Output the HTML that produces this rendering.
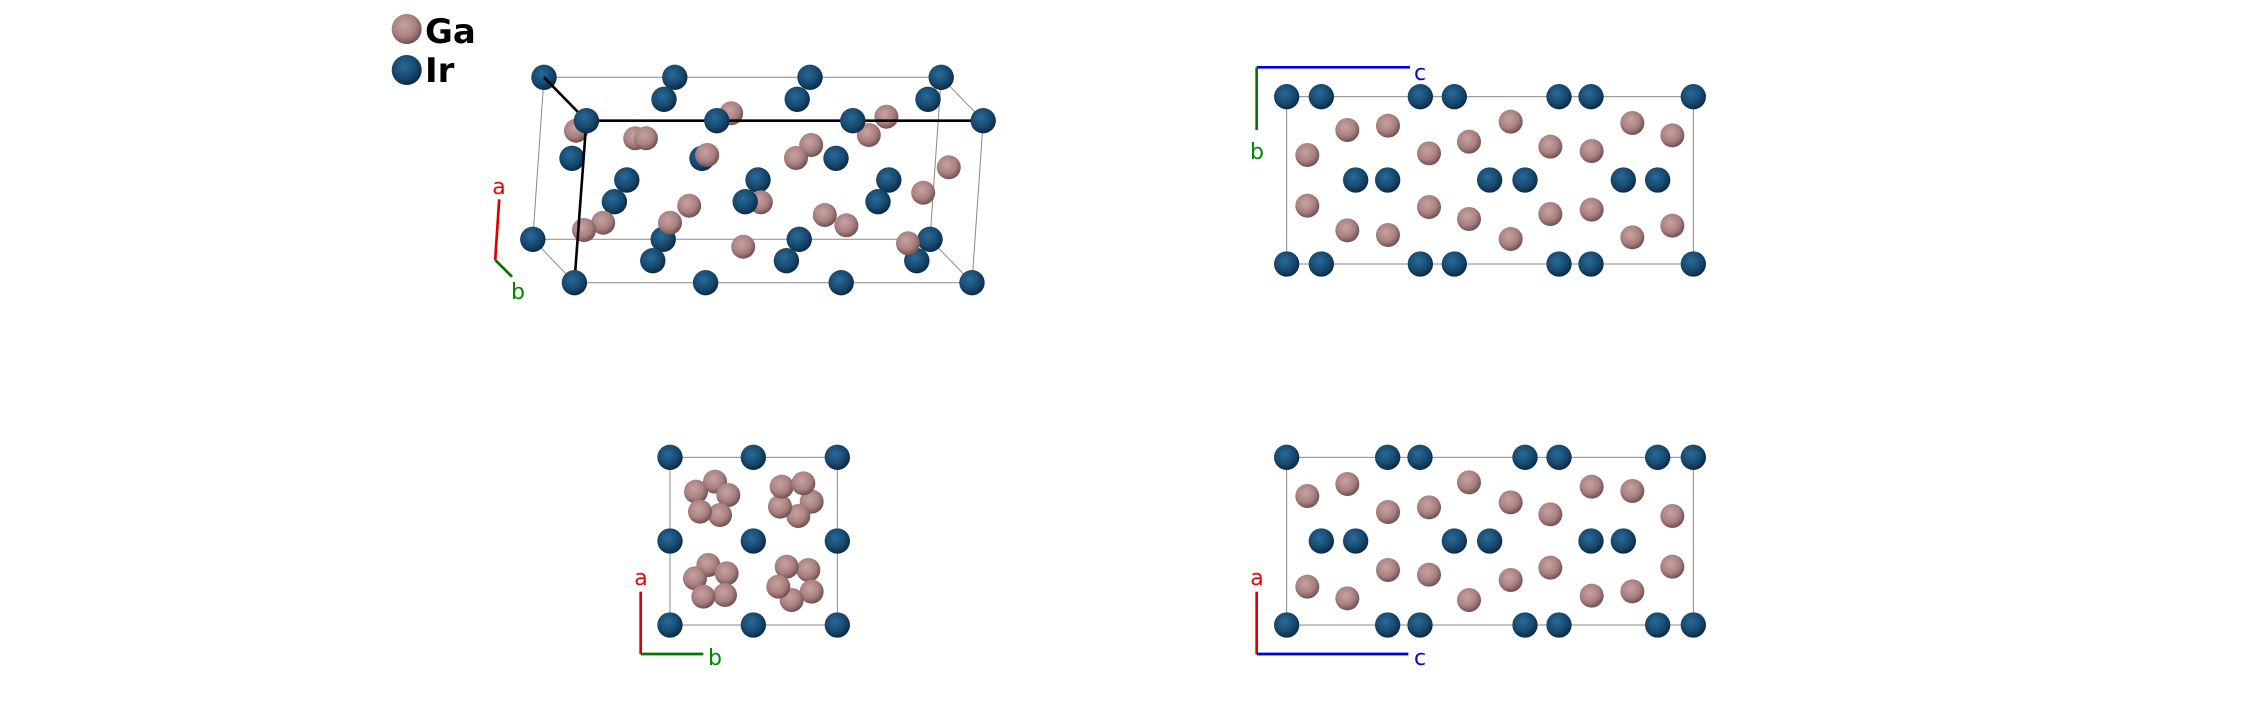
<!DOCTYPE html>
<html><head><meta charset="utf-8"><style>
html,body{margin:0;padding:0;background:#fff;}
svg{display:block;}
text{font-family:"DejaVu Sans","Liberation Sans",sans-serif;}
</style></head><body>
<svg width="2244" height="722" viewBox="0 0 2244 722" xmlns="http://www.w3.org/2000/svg">
<defs>
<radialGradient id="gi" cx="0.42" cy="0.38" r="0.65">
<stop offset="0" stop-color="#2a6a98"/><stop offset="0.6" stop-color="#17496f"/><stop offset="1" stop-color="#0b2640"/></radialGradient>
<radialGradient id="gg" cx="0.42" cy="0.38" r="0.65">
<stop offset="0" stop-color="#c8a2a2"/><stop offset="0.6" stop-color="#a98080"/><stop offset="1" stop-color="#6a4a4a"/></radialGradient>
<circle id="i3" r="12.7" fill="url(#gi)"/>
<circle id="g3" r="12" fill="url(#gg)"/>
<circle id="ir2" r="38" fill="url(#gi)"/>
<circle id="ga2" r="36" fill="url(#gg)"/>
</defs>

<!-- legend -->
<circle cx="406.7" cy="29" r="15" fill="url(#gg)"/>
<circle cx="406.7" cy="70" r="15" fill="url(#gi)"/>
<text x="425" y="43" font-size="34" font-weight="bold" fill="#000">Ga</text>
<text x="425" y="82" font-size="34" font-weight="bold" fill="#000">Ir</text>

<!-- 3D view -->
<g stroke="#888" stroke-width="1" fill="none">
<polygon points="544,77.3 941.2,77.3 930,239.3 532.8,239.3"/>
<polygon points="586.4,120.7 983.2,120.7 972,282.7 574.4,282.7"/>
<line x1="941.2" y1="77.3" x2="983.2" y2="120.7"/>
<line x1="532.8" y1="239.3" x2="574.4" y2="282.7"/>
<line x1="930" y1="239.3" x2="972" y2="282.7"/>
</g>
<use href="#i3" x="544" y="77.3"/><use href="#i3" x="674.8" y="77.3"/><use href="#i3" x="810" y="77.3"/><use href="#i3" x="941.2" y="77.3"/>
<use href="#i3" x="664" y="99.3"/><use href="#i3" x="797.2" y="99.3"/><use href="#i3" x="928" y="99.3"/>
<use href="#g3" x="731.2" y="113.3"/><use href="#g3" x="886.4" y="116.7"/><use href="#g3" x="576" y="130.7"/><use href="#g3" x="868.8" y="135"/>
<use href="#i3" x="572" y="158.3"/><use href="#i3" x="702" y="158.3"/><use href="#i3" x="836" y="158.3"/>
<use href="#g3" x="635.2" y="138.3"/><use href="#g3" x="646" y="138.3"/>
<use href="#g3" x="707.2" y="155"/><use href="#g3" x="811.2" y="145"/><use href="#g3" x="796" y="158"/><use href="#g3" x="948.8" y="167.3"/><use href="#g3" x="923.2" y="192.7"/>
<use href="#i3" x="626.8" y="180"/><use href="#i3" x="758" y="180"/><use href="#i3" x="888.8" y="180"/>
<use href="#g3" x="760.8" y="202.3"/><use href="#g3" x="689.2" y="205.7"/>
<use href="#i3" x="614.4" y="201.7"/><use href="#i3" x="745.2" y="201.7"/><use href="#i3" x="878" y="201.7"/>
<use href="#i3" x="532.8" y="239.3"/><use href="#i3" x="663.2" y="239.3"/><use href="#i3" x="799.2" y="239.3"/><use href="#i3" x="930" y="239.3"/>
<use href="#i3" x="652.8" y="260.7"/><use href="#i3" x="786.4" y="260.7"/><use href="#i3" x="916.8" y="260.7"/>
<use href="#g3" x="603.2" y="222.7"/><use href="#g3" x="584" y="230"/><use href="#g3" x="670" y="222.7"/><use href="#g3" x="824.8" y="215"/><use href="#g3" x="846.4" y="225.3"/><use href="#g3" x="743.2" y="246.7"/><use href="#g3" x="908" y="243.3"/>
<g stroke="#000" stroke-width="2.6" fill="none">
<line x1="544" y1="77.3" x2="586.4" y2="120.7"/>
<line x1="586.4" y1="120.7" x2="983.2" y2="120.7"/>
<line x1="586.4" y1="120.7" x2="574.4" y2="282.7"/>
</g>
<use href="#i3" x="586.4" y="120.7"/><use href="#i3" x="716.8" y="120.7"/><use href="#i3" x="852.8" y="120.7"/><use href="#i3" x="983.2" y="120.7"/>
<use href="#i3" x="574.4" y="282.7"/><use href="#i3" x="705.6" y="282.7"/><use href="#i3" x="841.2" y="282.7"/><use href="#i3" x="972" y="282.7"/>
<line x1="499.2" y1="199.3" x2="495.2" y2="260" stroke="#d00" stroke-width="2.7"/>
<line x1="495.2" y1="260" x2="512" y2="276.7" stroke="#070" stroke-width="2.7"/>
<text x="499" y="194" font-size="22" fill="#e00" text-anchor="middle">a</text>
<text x="518" y="299" font-size="22" fill="#080" text-anchor="middle">b</text>

<!-- top right view -->
<g transform="translate(1240,40) scale(0.3333333)">
<rect x="140" y="170" width="1220" height="502" fill="none" stroke="#888" stroke-width="3"/>
<g>
<use href="#ga2" x="202" y="345"/><use href="#ga2" x="322" y="270"/><use href="#ga2" x="444" y="257"/><use href="#ga2" x="567" y="340"/><use href="#ga2" x="687" y="305"/><use href="#ga2" x="812" y="245"/><use href="#ga2" x="931" y="320"/><use href="#ga2" x="1055" y="333"/><use href="#ga2" x="1177" y="249"/><use href="#ga2" x="1297" y="286"/>
<use href="#ga2" x="202" y="497"/><use href="#ga2" x="322" y="571"/><use href="#ga2" x="444" y="585"/><use href="#ga2" x="567" y="501"/><use href="#ga2" x="687" y="537"/><use href="#ga2" x="812" y="597"/><use href="#ga2" x="931" y="522"/><use href="#ga2" x="1055" y="509"/><use href="#ga2" x="1177" y="592"/><use href="#ga2" x="1297" y="557"/>
<use href="#ir2" x="140" y="170"/><use href="#ir2" x="244" y="170"/><use href="#ir2" x="541" y="170"/><use href="#ir2" x="643" y="170"/><use href="#ir2" x="957" y="170"/><use href="#ir2" x="1053" y="170"/><use href="#ir2" x="1360" y="170"/>
<use href="#ir2" x="140" y="672"/><use href="#ir2" x="244" y="672"/><use href="#ir2" x="541" y="672"/><use href="#ir2" x="643" y="672"/><use href="#ir2" x="957" y="672"/><use href="#ir2" x="1053" y="672"/><use href="#ir2" x="1360" y="672"/>
<use href="#ir2" x="347" y="420"/><use href="#ir2" x="443" y="420"/><use href="#ir2" x="749" y="420"/><use href="#ir2" x="855" y="420"/><use href="#ir2" x="1150" y="420"/><use href="#ir2" x="1253" y="420"/>
</g>
<line x1="50" y1="82" x2="510" y2="82" stroke="#00d" stroke-width="8"/>
<line x1="50" y1="82" x2="50" y2="270" stroke="#070" stroke-width="8"/>
</g>
<text x="1420" y="80" font-size="22" fill="#00e" text-anchor="middle">c</text>
<text x="1257" y="159" font-size="22" fill="#080" text-anchor="middle">b</text>

<!-- bottom left view -->
<g transform="translate(620,430) scale(0.3333333)">
<rect x="150" y="82" width="502" height="503" fill="none" stroke="#888" stroke-width="3"/>
<use href="#ga2" x="228" y="185"/><use href="#ga2" x="285" y="155"/><use href="#ga2" x="325" y="195"/><use href="#ga2" x="300" y="255"/><use href="#ga2" x="240" y="245"/>
<use href="#ga2" x="575" y="215"/><use href="#ga2" x="535" y="258"/><use href="#ga2" x="480" y="230"/><use href="#ga2" x="485" y="170"/><use href="#ga2" x="550" y="160"/>
<use href="#ga2" x="265" y="405"/><use href="#ga2" x="320" y="430"/><use href="#ga2" x="225" y="445"/><use href="#ga2" x="315" y="495"/><use href="#ga2" x="250" y="500"/>
<use href="#ga2" x="565" y="420"/><use href="#ga2" x="575" y="485"/><use href="#ga2" x="500" y="410"/><use href="#ga2" x="515" y="510"/><use href="#ga2" x="475" y="470"/>
<use href="#ir2" x="150" y="82"/><use href="#ir2" x="400" y="82"/><use href="#ir2" x="652" y="82"/>
<use href="#ir2" x="150" y="333"/><use href="#ir2" x="400" y="333"/><use href="#ir2" x="652" y="333"/>
<use href="#ir2" x="150" y="585"/><use href="#ir2" x="400" y="585"/><use href="#ir2" x="652" y="585"/>
<line x1="62" y1="485" x2="62" y2="672" stroke="#d00" stroke-width="8"/>
<line x1="62" y1="672" x2="250" y2="672" stroke="#070" stroke-width="8"/>
</g>
<text x="641" y="585" font-size="22" fill="#e00" text-anchor="middle">a</text>
<text x="715" y="665" font-size="22" fill="#080" text-anchor="middle">b</text>

<!-- bottom right view -->
<g transform="translate(1240,430) scale(0.3333333)">
<rect x="140" y="82" width="1220" height="503" fill="none" stroke="#888" stroke-width="3"/>
<use href="#ga2" x="202" y="198"/><use href="#ga2" x="322" y="162"/><use href="#ga2" x="444" y="246"/><use href="#ga2" x="567" y="232"/><use href="#ga2" x="687" y="157"/><use href="#ga2" x="812" y="217"/><use href="#ga2" x="931" y="253"/><use href="#ga2" x="1055" y="170"/><use href="#ga2" x="1177" y="183"/><use href="#ga2" x="1297" y="258"/>
<use href="#ga2" x="202" y="470"/><use href="#ga2" x="322" y="505"/><use href="#ga2" x="444" y="420"/><use href="#ga2" x="567" y="434"/><use href="#ga2" x="687" y="510"/><use href="#ga2" x="812" y="450"/><use href="#ga2" x="931" y="413"/><use href="#ga2" x="1055" y="497"/><use href="#ga2" x="1177" y="484"/><use href="#ga2" x="1297" y="410"/>
<use href="#ir2" x="140" y="82"/><use href="#ir2" x="443" y="82"/><use href="#ir2" x="540" y="82"/><use href="#ir2" x="855" y="82"/><use href="#ir2" x="957" y="82"/><use href="#ir2" x="1253" y="82"/><use href="#ir2" x="1360" y="82"/>
<use href="#ir2" x="140" y="585"/><use href="#ir2" x="443" y="585"/><use href="#ir2" x="540" y="585"/><use href="#ir2" x="855" y="585"/><use href="#ir2" x="957" y="585"/><use href="#ir2" x="1253" y="585"/><use href="#ir2" x="1360" y="585"/>
<use href="#ir2" x="244" y="333"/><use href="#ir2" x="347" y="333"/><use href="#ir2" x="643" y="333"/><use href="#ir2" x="749" y="333"/><use href="#ir2" x="1053" y="333"/><use href="#ir2" x="1150" y="333"/>
<line x1="50" y1="485" x2="50" y2="672" stroke="#d00" stroke-width="8"/>
<line x1="50" y1="672" x2="505" y2="672" stroke="#00d" stroke-width="8"/>
</g>
<text x="1257" y="585" font-size="22" fill="#e00" text-anchor="middle">a</text>
<text x="1420" y="665" font-size="22" fill="#00e" text-anchor="middle">c</text>
</svg>
</body></html>
